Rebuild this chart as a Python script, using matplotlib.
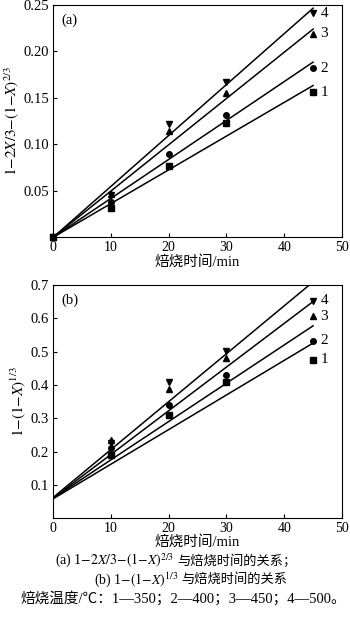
import numpy as np
import matplotlib
matplotlib.use("Agg")
import matplotlib.pyplot as plt

plt.rcParams['font.family'] = ['Liberation Serif', 'Noto Sans CJK SC']
plt.rcParams['mathtext.fontset'] = 'stix'
plt.rcParams['font.size'] = 9

#roasting time, min
t_a = [0, 10, 20, 30, 45]
t_b = [10, 20, 30, 45]

#(a) 1-2X/3-(1-X)^(2/3)
a_vals = {
    "1": [0, 0.032, 0.077, 0.123, 0.156],
    "2": [0, 0.038, 0.090, 0.132, 0.182],
    "3": [0, 0.047, 0.114, 0.155, 0.219],
    "4": [0, 0.045, 0.122, 0.167, 0.241],
}
#fitted lines: slope, intercept
a_slope = [0.00363, 0.00419, 0.00498, 0.00548]
a_icpt = [0.0, 0.0, 0.0, 0.0]

#(b) 1-(1-X)^(1/3)
b_vals = {
    "1": [0.190, 0.311, 0.410, 0.476],
    "2": [0.210, 0.341, 0.430, 0.533],
    "3": [0.235, 0.387, 0.480, 0.606],
    "4": [0.225, 0.410, 0.503, 0.653],
}
b_slope = [0.0104, 0.01151, 0.01313, 0.0144]
b_icpt = [0.058, 0.060, 0.060, 0.062]

markers = {"1": "s", "2": "o", "3": "^", "4": "v"}


def draw_panel(ax, t, vals, slopes, icpts, ylim, yticks, fmt, ylabel, tag, clip=True):
    #fit lines first, markers on top
    tl = np.array([0, 45])
    for k, b in zip(slopes, icpts):
        ax.plot(tl, k * tl + b, color="black", lw=1.1, zorder=2)
    for name, y in vals.items():
        ax.plot(t, y, linestyle="none", marker=markers[name], color="black",
                markersize=4, clip_on=clip, zorder=3)
        ax.text(46.3, y[-1], name, fontsize=11, va="center", ha="left")
    ax.set_xlim(0, 50)
    ax.set_ylim(*ylim)
    ax.set_xticks([0, 10, 20, 30, 40, 50])
    ax.set_yticks(yticks)
    ax.set_yticklabels([fmt.format(v) for v in yticks])
    ax.tick_params(direction="in", length=3, labelsize=10.5, pad=3)
    ax.tick_params(axis="x", labelsize=10)
    ax.set_xlabel("焙烧时间/min", fontsize=10.5, labelpad=0)
    ax.set_ylabel(ylabel, fontsize=11, labelpad=2)
    ax.text(0.03, 0.965, tag, transform=ax.transAxes, fontsize=10.5, va="top", ha="left")
    for s in ax.spines.values():
        s.set_linewidth(0.8)


fig = plt.figure(figsize=(3.5, 6.31), dpi=100)

ax1 = fig.add_axes([0.152, 0.624, 0.825, 0.368])
draw_panel(ax1, t_a, a_vals, a_slope, a_icpt, (0, 0.25),
           [0.05, 0.10, 0.15, 0.20, 0.25], "{:.2f}",
           r"$\mathrm{1{-}2}X\mathrm{/3{-}(1{-}}X\mathrm{)}^{2/3}$", "(a)", clip=False)

ax2 = fig.add_axes([0.152, 0.179, 0.825, 0.369])
draw_panel(ax2, t_b, b_vals, b_slope, b_icpt, (0, 0.7),
           [0.1, 0.2, 0.3, 0.4, 0.5, 0.6, 0.7], "{:.1f}",
           r"$\mathrm{1{-}(1{-}}X\mathrm{)}^{1/3}$", "(b)")

#caption: formula part and Chinese part drawn side by side
W = 350.0
fig.text(174 / W, 0.111, r"(a) 1$\mathrm{{-}2}X\mathrm{/3{-}(1{-}}X\mathrm{)}^{2/3}$",
         ha="right", va="center", fontsize=10)
fig.text(177 / W, 0.111, "与焙烧时间的关系；", ha="left", va="center", fontsize=9.5)
fig.text(178 / W, 0.081, r"(b) 1$\mathrm{{-}(1{-}}X\mathrm{)}^{1/3}$",
         ha="right", va="center", fontsize=10)
fig.text(181 / W, 0.081, "与焙烧时间的关系", ha="left", va="center", fontsize=9.5)
fig.text(183 / W, 0.051, "焙烧温度/℃：1—350；2—400；3—450；4—500。",
         ha="center", va="center", fontsize=10.5)

fig.savefig("out.png", dpi=100)
